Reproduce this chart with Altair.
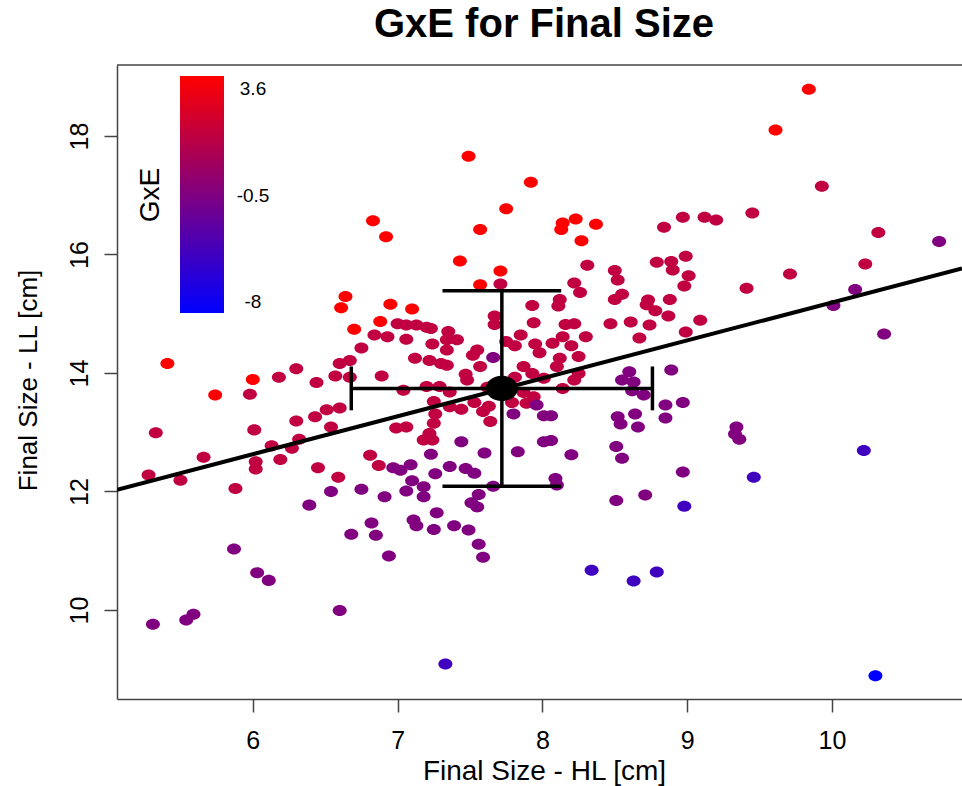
import altair as alt
import pandas as pd

FONT = "Liberation Sans"
AXIS_GREY = "#444444"

# GxE value carried by each colour group of animals
gxe_red, gxe_crimson, gxe_purple, gxe_violet, gxe_blue = 3.6, 1.55, -0.5, -4.25, -8.0

red_hl = [6.83, 6.92, 7.49, 7.92, 7.75, 7.57, 8.14, 8.23, 8.13, 8.37, 8.27, 7.43, 7.71,
          9.84, 9.61, 7.57, 7.10, 6.64, 6.61, 6.95, 6.88, 6.70, 5.41, 6.00, 5.74]
red_ll = [16.57, 16.30, 17.66, 17.22, 16.77, 16.42, 16.53, 16.60, 16.42, 16.51, 16.23, 15.89, 15.72,
          18.79, 18.10, 15.49, 15.08, 15.29, 15.10, 15.16, 14.87, 14.74, 14.16, 13.89, 13.63]

crimson_hl = [8.31, 8.50, 8.52, 8.84, 8.97, 8.79, 8.89, 8.90, 8.99, 9.01, 8.22, 7.71, 9.45, 9.12,
              9.20, 9.93, 10.32, 10.23, 9.71, 8.98, 9.41, 9.09, 8.99, 7.00, 6.84, 6.93, 7.06, 6.75,
              6.18, 6.30, 6.44, 6.57, 6.67, 6.60, 6.67, 6.89, 5.98, 5.33, 6.01, 6.30, 6.43, 6.51,
              6.60, 6.54, 6.13, 6.27, 6.32, 5.66, 6.02, 6.02, 6.19, 6.45, 6.59, 6.81, 6.87, 6.99,
              7.06, 5.28, 5.50, 5.88, 8.26, 8.12, 8.11, 7.93, 8.55, 8.50, 8.73, 8.72, 8.78, 8.88,
              8.87, 8.61, 8.47, 8.74, 8.67, 7.94, 7.67, 7.67, 8.16, 8.22, 8.14, 8.30, 8.20, 8.25,
              8.12, 8.10, 8.25, 8.22, 8.14, 8.07, 7.95, 7.98, 7.85, 7.81, 7.75, 7.87, 7.93, 8.01,
              7.81, 7.87, 7.94, 7.89, 7.79, 7.06, 7.13, 7.20, 7.23, 7.24, 7.35, 7.34, 7.41, 7.34,
              7.55, 7.52, 7.12, 7.22, 7.30, 7.34, 7.57, 7.47, 7.48, 7.20, 7.29, 7.36, 7.62, 7.04,
              7.25, 7.36, 7.44, 7.53, 7.63, 7.59, 7.26, 7.25, 7.64, 7.22, 7.18, 7.24]
crimson_ll = [15.82, 15.73, 15.57, 16.46, 16.63, 15.87, 15.88, 15.74, 15.97, 15.64, 15.52, 15.50, 16.70, 16.63,
              16.58, 17.15, 16.37, 15.84, 15.67, 15.47, 15.43, 14.89, 14.69, 14.83, 14.64, 14.61, 14.57, 14.42,
              13.93, 14.07, 13.84, 13.95, 13.93, 14.16, 14.21, 13.95, 13.64, 12.99, 13.04, 13.19, 13.26, 13.38,
              13.41, 13.09, 12.77, 12.73, 12.88, 12.58, 12.50, 12.38, 12.54, 12.40, 12.24, 12.61, 12.44, 13.07,
              13.09, 12.28, 12.19, 12.05, 15.36, 15.24, 15.13, 15.14, 15.33, 15.24, 15.23, 15.15, 15.05, 15.24,
              14.96, 14.86, 14.83, 14.81, 14.59, 14.85, 14.96, 14.82, 14.82, 14.83, 14.61, 14.61, 14.46, 14.28,
              14.25, 14.11, 13.99, 13.88, 13.74, 14.50, 14.49, 14.34, 14.64, 14.46, 14.53, 14.11, 13.99, 13.91,
              13.93, 13.67, 13.60, 13.49, 13.50, 14.81, 14.81, 14.77, 14.75, 14.49, 14.70, 14.56, 14.56, 14.39,
              14.39, 14.30, 14.25, 14.21, 14.16, 14.13, 14.11, 13.98, 13.88, 13.77, 13.77, 13.68, 13.76, 13.71,
              13.52, 13.43, 13.39, 13.50, 13.44, 13.35, 13.31, 13.15, 13.18, 12.98, 12.87, 12.87]

purple_hl = [10.74, 10.16, 10.01, 10.36, 8.97, 9.34, 9.33, 9.36, 8.97, 8.51, 8.71, 7.10, 7.18, 7.06,
             7.18, 7.66, 7.56, 7.51, 7.55, 7.27, 7.11, 7.13, 7.25, 7.39, 7.49, 7.56, 7.59, 8.10,
             6.54, 6.75, 6.91, 6.39, 6.82, 6.68, 6.85, 6.94, 5.87, 6.03, 6.11, 6.60, 5.59, 5.54,
             5.31, 6.97, 7.02, 7.96, 8.01, 8.06, 7.80, 7.66, 7.44, 7.60, 7.83, 7.23, 8.01, 8.06,
             8.20, 7.09, 7.36, 7.47, 7.53, 7.26, 8.09, 8.89, 8.60, 8.55, 8.63, 8.62, 8.70, 8.85,
             8.52, 8.54, 8.64, 8.66, 8.85, 8.51, 8.55]
purple_ll = [16.22, 15.41, 15.14, 14.66, 13.50, 13.09, 12.97, 12.88, 12.33, 11.85, 11.94, 12.18, 12.08, 12.01,
             11.91, 12.09, 11.95, 11.81, 11.74, 11.64, 11.52, 11.42, 11.36, 11.42, 11.35, 11.11, 10.89, 12.11,
             12.00, 12.04, 11.91, 11.77, 11.47, 11.28, 11.26, 10.91, 11.03, 10.63, 10.50, 9.99, 9.93, 9.83,
             9.76, 12.40, 12.36, 13.46, 13.28, 13.28, 13.31, 14.26, 12.84, 12.65, 12.67, 12.63, 12.84, 12.86,
             12.62, 12.45, 12.42, 12.39, 12.31, 12.30, 12.22, 14.05, 14.02, 13.88, 13.85, 13.70, 13.63, 13.46,
             13.26, 13.14, 13.31, 13.09, 13.24, 12.76, 12.56]

violet_hl = [10.22, 9.46, 8.98, 8.34, 8.63, 8.79, 7.33]
violet_ll = [12.69, 12.24, 11.75, 10.67, 10.49, 10.64, 9.09]

blue_hl = [10.30]
blue_ll = [8.89]

# Mean +/- SD of both traits and the fitted regression line
mean_hl, sd_hl = 7.72, 1.04
mean_ll, sd_ll = 13.74, 1.65
reg_intercept, reg_slope = 8.79, 0.64

# Colour ramp (legend labels: min, middle, max)
gxe_stops = [-8.0, -0.5, 3.6]
gxe_colors = ["#0000ff", "#800080", "#ff0000"]
legend_labels = ["3.6", "-0.5", "-8"]

X_DOMAIN = [5.062, 10.898]
Y_DOMAIN = [8.498, 19.198]
PLOT_W, PLOT_H = 845, 634

groups = [(red_hl, red_ll, gxe_red), (crimson_hl, crimson_ll, gxe_crimson),
          (purple_hl, purple_ll, gxe_purple), (violet_hl, violet_ll, gxe_violet),
          (blue_hl, blue_ll, gxe_blue)]
points = pd.concat([pd.DataFrame({"hl": h, "ll": l, "gxe": g}) for h, l, g in groups],
                   ignore_index=True)

reg = pd.DataFrame({"hl": X_DOMAIN, "ll": [reg_intercept + reg_slope * x for x in X_DOMAIN]})

cap_hl, cap_ll = 0.41, 0.37
segments = pd.DataFrame([
    {"hl": mean_hl - sd_hl, "hl2": mean_hl + sd_hl, "ll": mean_ll, "ll2": mean_ll},
    {"hl": mean_hl, "hl2": mean_hl, "ll": mean_ll - sd_ll, "ll2": mean_ll + sd_ll},
    {"hl": mean_hl - sd_hl, "hl2": mean_hl - sd_hl, "ll": mean_ll - cap_ll, "ll2": mean_ll + cap_ll},
    {"hl": mean_hl + sd_hl, "hl2": mean_hl + sd_hl, "ll": mean_ll - cap_ll, "ll2": mean_ll + cap_ll},
    {"hl": mean_hl - cap_hl, "hl2": mean_hl + cap_hl, "ll": mean_ll - sd_ll, "ll2": mean_ll - sd_ll},
    {"hl": mean_hl - cap_hl, "hl2": mean_hl + cap_hl, "ll": mean_ll + sd_ll, "ll2": mean_ll + sd_ll},
])
centre = pd.DataFrame({"hl": [mean_hl], "ll": [mean_ll]})
one_row = pd.DataFrame({"k": [0]})

ELLIPSE = "M-1,0A1,0.786,0,1,0,1,0A1,0.786,0,1,0,-1,0Z"

xs = alt.Scale(domain=X_DOMAIN, nice=False, zero=False)
ys = alt.Scale(domain=Y_DOMAIN, nice=False, zero=False)

x_axis = alt.Axis(values=[6, 7, 8, 9, 10], title="Final Size - HL [cm]", grid=False,
                  tickSize=13, tickWidth=1.5, tickColor=AXIS_GREY, domainColor=AXIS_GREY,
                  domainWidth=1.5, labelFontSize=25, labelPadding=16, labelColor="black",
                  labelFont=FONT, labelFlush=False, titleFont=FONT, titleFontSize=28,
                  titleFontWeight="normal", titleColor="black", titleX=427, titleY=72,
                  titleAlign="center", titleBaseline="middle")
y_axis = alt.Axis(values=[10, 12, 14, 16, 18], title="Final Size - LL [cm]", grid=False,
                  tickSize=13, tickWidth=1.5, tickColor=AXIS_GREY, domainColor=AXIS_GREY,
                  domainWidth=1.5, labelFontSize=25, labelPadding=17, labelColor="black",
                  labelFont=FONT, labelAngle=270, labelAlign="center",
                  labelBaseline="alphabetic", labelFlush=False, titleFont=FONT,
                  titleFontSize=26, titleFontWeight="normal", titleColor="black",
                  titleAngle=270, titleX=-89, titleY=315, titleAlign="center",
                  titleBaseline="middle")

X = alt.X("hl:Q", scale=xs, axis=x_axis)
Y = alt.Y("ll:Q", scale=ys, axis=y_axis)

dots = alt.Chart(points).mark_point(shape=ELLIPSE, filled=True, size=196, opacity=1,
                                    strokeWidth=0).encode(
    x=X, y=Y,
    color=alt.Color("gxe:Q", legend=None,
                    scale=alt.Scale(domain=gxe_stops, range=gxe_colors, interpolate="rgb")),
)

reg_line = alt.Chart(reg).mark_line(color="black", strokeWidth=4, clip=True).encode(x=X, y=Y)

bars = alt.Chart(segments).mark_rule(color="black", strokeWidth=3.5).encode(
    x=X, x2="hl2:Q", y=Y, y2="ll2:Q")

centre_dot = alt.Chart(centre).mark_point(shape=ELLIPSE, filled=True, size=1024,
                                          color="black", opacity=1).encode(x=X, y=Y)

gradient = alt.LinearGradient(
    gradient="linear", x1=0, x2=0, y1=0, y2=1,
    stops=[alt.GradientStop(color=gxe_colors[2], offset=0),
           alt.GradientStop(color=gxe_colors[1], offset=0.5),
           alt.GradientStop(color=gxe_colors[0], offset=1)])
legend_bar = alt.Chart(one_row).mark_rect(fill=gradient).encode(
    x=alt.value(63), x2=alt.value(107), y=alt.value(11), y2=alt.value(248))

legend_texts = [
    alt.Chart(one_row).mark_text(text=lab, font=FONT, fontSize=19, align="center",
                                 baseline="middle", color="black").encode(
        x=alt.value(136), y=alt.value(yp))
    for lab, yp in zip(legend_labels, [24, 131, 237])
]
legend_title = alt.Chart(one_row).mark_text(text="GxE", font=FONT, fontSize=28, angle=270,
                                            align="center", baseline="middle",
                                            color="black").encode(
    x=alt.value(34), y=alt.value(130))

title = alt.Chart(one_row).mark_text(text="GxE for Final Size", font=FONT, fontSize=40,
                                     fontWeight="bold", align="center", baseline="middle",
                                     color="black").encode(
    x=alt.value(427), y=alt.value(-40))

top_border = alt.Chart(one_row).mark_rule(color=AXIS_GREY, strokeWidth=1.5).encode(
    x=alt.value(0), x2=alt.value(PLOT_W), y=alt.value(0))

chart = alt.layer(
    dots, reg_line, bars, centre_dot, legend_bar, *legend_texts, legend_title, title, top_border
).properties(
    width=PLOT_W, height=PLOT_H,
    padding={"left": 117, "top": 65, "right": 0, "bottom": 87},
    autosize=alt.AutoSizeParams(type="none"),
    background="white",
).configure_view(stroke=None)

chart.save("out.html", embed_options={"renderer": "svg", "actions": False})
